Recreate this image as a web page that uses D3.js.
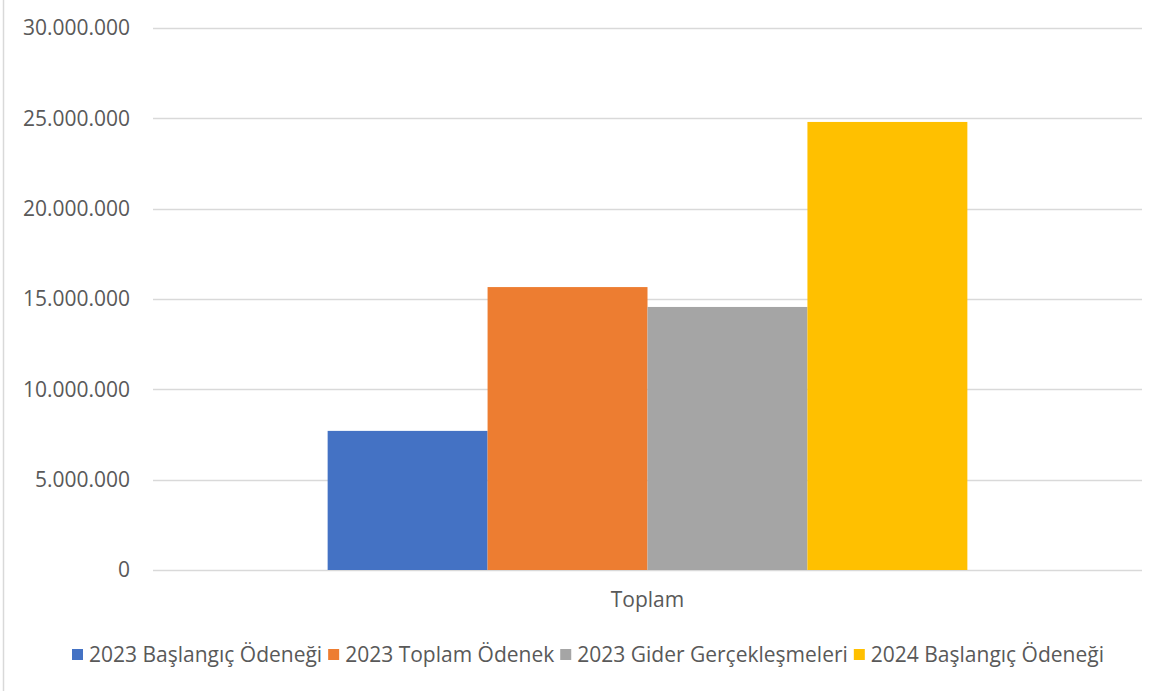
<!DOCTYPE html>
<html>
<head>
<meta charset="utf-8">
<script src="https://cdn.jsdelivr.net/npm/d3@7/dist/d3.min.js"></script>
<style>
  body { margin: 0; background: #fff; }
  text { font-family: "Open Sans", sans-serif; fill: #595959; }
</style>
</head>
<body>
<svg id="chart" width="1170" height="691"></svg>
<script>
// data
var categories = ["Toplam"];
var seriesNames = ["2023 Başlangıç Ödeneği", "2023 Toplam Ödenek", "2023 Gider Gerçekleşmeleri", "2024 Başlangıç Ödeneği"];
var seriesValues = [7700000, 15660000, 14560000, 24800000];
var seriesColors = ["#4472c4", "#ed7d31", "#a5a5a5", "#ffc000"];
var yTicks = [0, 5000000, 10000000, 15000000, 20000000, 25000000, 30000000];

var margins = { top: 28, left: 153, right: 28, bottom: 121 };
var width = 1170 - margins.left - margins.right,
    height = 691 - margins.top - margins.bottom;

var svg = d3.select("#chart");

// outer chart border (only left edge is visible in the crop)
svg.append("line")
    .attr("x1", 3.5).attr("x2", 3.5)
    .attr("y1", 0).attr("y2", 691)
    .attr("stroke", "#d9d9d9").attr("stroke-width", 1.5);

var g = svg.append("g")
    .attr("transform", "translate(" + margins.left + "," + margins.top + ")");

var y = d3.scaleLinear().domain([0, 30000000]).range([height, 0]);
var x0 = d3.scaleBand().domain(categories).range([0, width]).paddingInner(0).paddingOuter(0.273);
var x1 = d3.scaleBand().domain(seriesNames).range([0, x0.bandwidth()]).padding(0);

var fmt = function(d) {
    return d3.format(",")(d).replace(/,/g, ".");
};

// gridlines
g.append("g")
    .selectAll("line")
    .data(yTicks)
    .enter().append("line")
    .attr("x1", 0).attr("x2", width)
    .attr("y1", function(d) { return Math.round(y(d)) + 0.5; })
    .attr("y2", function(d) { return Math.round(y(d)) + 0.5; })
    .attr("stroke", "#d9d9d9")
    .attr("stroke-width", 1.5);

// y axis labels
var yAxis = g.append("g")
    .call(d3.axisLeft(y).tickValues(yTicks).tickFormat(fmt).tickSize(0).tickPadding(23));
yAxis.select(".domain").remove();
yAxis.selectAll("text")
    .style("font-size", "21px")
    .attr("fill", "#595959");

// bars
var groups = g.selectAll(".cat")
    .data(categories)
    .enter().append("g")
    .attr("class", "cat")
    .attr("transform", function(d) { return "translate(" + x0(d) + ",0)"; });

groups.selectAll("rect")
    .data(function() {
        return seriesNames.map(function(n, i) { return { name: n, value: seriesValues[i], color: seriesColors[i] }; });
    })
    .enter().append("rect")
    .attr("x", function(d) { return x1(d.name); })
    .attr("width", x1.bandwidth())
    .attr("y", function(d) { return y(d.value); })
    .attr("height", function(d) { return height - y(d.value); })
    .attr("fill", function(d) { return d.color; });

// x axis labels
var xAxis = g.append("g")
    .attr("transform", "translate(0," + height + ")")
    .call(d3.axisBottom(x0).tickSize(0).tickPadding(22));
xAxis.select(".domain").remove();
xAxis.selectAll("text")
    .style("font-size", "21px")
    .attr("fill", "#595959");

// legend
var legend = svg.append("g").attr("transform", "translate(72,655)");
var lx = 0;
seriesNames.forEach(function(n, i) {
    var item = legend.append("g").attr("transform", "translate(" + lx + ",0)");
    item.append("rect")
        .attr("x", 0).attr("y", -6)
        .attr("width", 11).attr("height", 11)
        .attr("fill", seriesColors[i]);
    var t = item.append("text")
        .attr("x", 17).attr("y", 0)
        .attr("dy", "0.35em")
        .style("font-size", "21px")
        .text(n);
    lx += 17 + t.node().getComputedTextLength() + 6;
});
</script>
</body>
</html>
